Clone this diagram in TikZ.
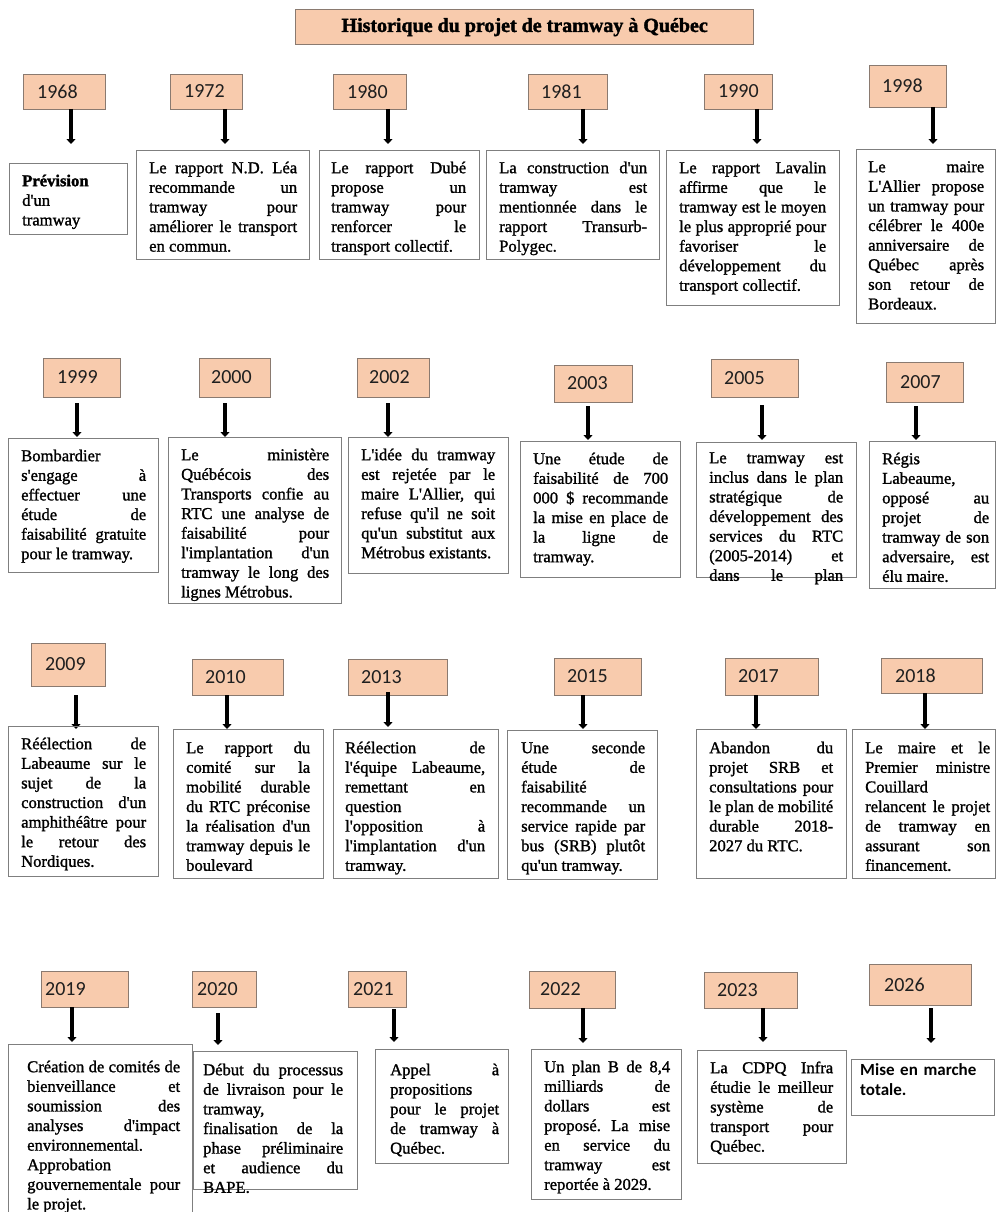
\documentclass[tikz,border=0pt]{standalone}
\usepackage{fontspec}
\setmainfont{Liberation Serif}[Ligatures=TeXOff, UprightFeatures={FakeBold=1.3}, BoldFeatures={FakeBold=1.8}]
\newfontfamily\yearfont{Carlito}
\usetikzlibrary{arrows.meta}
\definecolor{yearfill}{HTML}{F8CBAD}
\definecolor{yearline}{HTML}{8A7A70}
\definecolor{boxline}{HTML}{7F7F7F}
\newcommand{\JLn}[1]{\makebox[\jw][s]{#1}}
\newcommand{\LLn}[1]{\mbox{#1}}
\newcommand{\FS}{\rule{0pt}{16pt}}
\newcommand{\YR}[7]{%
  \node[yearbox, anchor=north west, minimum width={#4-#2}, minimum height={#5-#3}] (y#1) at (#2,#3) {};
  \node[yeartext] (yl#1) at ({#2+#6},{(#3+#5)/2}) {#7};}
\newcommand{\TB}[5]{%
  \node[textbox, anchor=north west, minimum width={#4-#2}, minimum height={#5-#3}] (b#1) at (#2,#3) {};}
\newcommand{\AR}[4]{%
  \coordinate (as#1) at (#2,#3); \coordinate (ae#1) at (#2,#4); \draw[arr] (as#1) -- (ae#1);}
\newcommand{\TX}[5]{%
  \node[body, text width=#4] (t#1) at (#2,#3) {\def\jw{#4pt}\spaceskip=0pt\xspaceskip=0pt\frenchspacing\FS#5};}
\begin{document}
\begin{tikzpicture}[x=1pt,y=-1pt,
  yearbox/.style={draw=yearline, fill=yearfill, line width=1.3pt, inner sep=0pt},
  textbox/.style={draw=boxline, line width=1.3pt, inner sep=0pt},
  yeartext/.style={font=\yearfont\fontsize{20}{24}\selectfont, text=black!88, inner sep=0pt, anchor=west},
  body/.style={font=\fontsize{16.6}{19.6}\selectfont, inner sep=0pt, anchor=north west, align=left},
  arr/.style={line width=3.5pt, -{Triangle[width=9pt,length=5pt]}},
]
\useasboundingbox[fill=white] (0,0) rectangle (996,1212);

% title
\node[yearbox, anchor=north west, minimum width=458, minimum height=35,
  font=\bfseries\fontsize{20}{24}\selectfont] (title) at (295,9) {Historique du projet de tramway à Québec};

% ---------------- row 1
\YR{1968}{23}{74}{105}{109}{14}{1968}
\AR{1968}{71}{109}{144}
\TB{1968}{9}{163}{127}{234}
\TX{1968}{22}{170}{100}{\textbf{Prévision}\\d'un\\tramway}

\YR{1972}{170}{74}{242}{109}{14}{1972}
\AR{1972}{225}{109}{144}
\TB{1972}{136}{150}{309}{259}
\TX{1972}{149}{157}{148}{\JLn{Le rapport N.D. Léa}\\\JLn{recommande un}\\\JLn{tramway pour}\\\JLn{améliorer le transport}\\\LLn{en commun.}}

\YR{1980}{333}{74}{406}{109}{14}{1980}
\AR{1980}{388}{109}{144}
\TB{1980}{319}{150}{479}{259}
\TX{1980}{331}{157}{135}{\JLn{Le rapport Dubé}\\\JLn{propose un}\\\JLn{tramway pour}\\\JLn{renforcer le}\\\LLn{transport collectif.}}

\YR{1981}{528}{74}{607}{109}{13}{1981}
\AR{1981}{583}{109}{144}
\TB{1981}{486}{150}{659}{259}
\TX{1981}{499}{157}{148}{\JLn{La construction d'un}\\\JLn{tramway est}\\\JLn{mentionnée dans le}\\\JLn{rapport Transurb-}\\\LLn{Polygec.}}

\YR{1990}{704}{74}{772}{109}{14}{1990}
\AR{1990}{757}{109}{144}
\TB{1990}{666}{150}{839}{305}
\TX{1990}{679}{157}{147}{\JLn{Le rapport Lavalin}\\\JLn{affirme que le}\\\JLn{tramway est le moyen}\\\JLn{le plus approprié pour}\\\JLn{favoriser le}\\\JLn{développement du}\\\LLn{transport collectif.}}

\YR{1998}{869}{65}{946}{107}{13}{1998}
\AR{1998}{933}{107}{144}
\TB{1998}{856}{149}{995}{323}
\TX{1998}{868}{156}{116}{\JLn{Le maire}\\\JLn{L'Allier propose}\\\JLn{un tramway pour}\\\JLn{célébrer le 400e}\\\JLn{anniversaire de}\\\JLn{Québec après}\\\JLn{son retour de}\\\LLn{Bordeaux.}}

% ---------------- row 2
\YR{1999}{43}{358}{120}{397}{14}{1999}
\AR{1999}{77}{403}{437}
\TB{1999}{8}{438}{158}{572}
\TX{1999}{21}{445}{125}{\LLn{Bombardier}\\\JLn{s'engage à}\\\JLn{effectuer une}\\\JLn{étude de}\\\JLn{faisabilité gratuite}\\\LLn{pour le tramway.}}

\YR{2000}{199}{358}{270}{397}{12}{2000}
\AR{2000}{225}{403}{437}
\TB{2000}{168}{437}{341}{603}
\TX{2000}{181}{444}{148}{\JLn{Le ministère}\\\JLn{Québécois des}\\\JLn{Transports confie au}\\\JLn{RTC une analyse de}\\\JLn{faisabilité pour}\\\JLn{l'implantation d'un}\\\JLn{tramway le long des}\\\LLn{lignes Métrobus.}}

\YR{2002}{357}{358}{429}{397}{12}{2002}
\AR{2002}{388}{403}{437}
\TB{2002}{348}{437}{508}{573}
\TX{2002}{361}{444}{134}{\JLn{L'idée du tramway}\\\JLn{est rejetée par le}\\\JLn{maire L'Allier, qui}\\\JLn{refuse qu'il ne soit}\\\JLn{qu'un substitut aux}\\\LLn{Métrobus existants.}}

\YR{2003}{554}{365}{632}{402}{13}{2003}
\AR{2003}{588}{406}{440}
\TB{2003}{520}{441}{680}{577}
\TX{2003}{533}{448}{135}{\JLn{Une étude de}\\\JLn{faisabilité de 700}\\\JLn{000 \$ recommande}\\\JLn{la mise en place de}\\\JLn{la ligne de}\\\LLn{tramway.}}

\YR{2005}{711}{359}{798}{397}{13}{2005}
\AR{2005}{762}{405}{440}
\TB{2005}{696}{442}{856}{577}
\TX{2005}{709}{447}{134}{\JLn{Le tramway est}\\\JLn{inclus dans le plan}\\\JLn{stratégique de}\\\JLn{développement des}\\\JLn{services du RTC}\\\JLn{(2005-2014) et}\\\JLn{dans le plan}}

\YR{2007}{886}{362}{963}{402}{14}{2007}
\AR{2007}{916}{406}{440}
\TB{2007}{869}{441}{995}{588}
\TX{2007}{882}{448}{107}{\LLn{Régis}\\\LLn{Labeaume,}\\\JLn{opposé au}\\\JLn{projet de}\\\JLn{tramway de son}\\\JLn{adversaire, est}\\\LLn{élu maire.}}

% ---------------- row 3
\YR{2009}{31}{643}{105}{686}{14}{2009}
\AR{2009}{76}{695}{729}
\TB{2009}{8}{726}{158}{876}
\TX{2009}{21}{733}{125}{\JLn{Réélection de}\\\JLn{Labeaume sur le}\\\JLn{sujet de la}\\\JLn{construction d'un}\\\JLn{amphithéâtre pour}\\\JLn{le retour des}\\\LLn{Nordiques.}}

\YR{2010}{192}{659}{283}{695}{13}{2010}
\AR{2010}{227}{695}{729}
\TB{2010}{173}{729}{323}{878}
\TX{2010}{186}{737}{124}{\JLn{Le rapport du}\\\JLn{comité sur la}\\\JLn{mobilité durable}\\\JLn{du RTC préconise}\\\JLn{la réalisation d'un}\\\JLn{tramway depuis le}\\\LLn{boulevard}}

\YR{2013}{348}{659}{447}{695}{13}{2013}
\AR{2013}{388}{692}{727}
\TB{2013}{333}{729}{498}{878}
\TX{2013}{345}{737}{140}{\JLn{Réélection de}\\\JLn{l'équipe Labeaume,}\\\JLn{remettant en}\\\LLn{question}\\\JLn{l'opposition à}\\\JLn{l'implantation d'un}\\\LLn{tramway.}}

\YR{2015}{554}{658}{641}{695}{13}{2015}
\AR{2015}{583}{695}{729}
\TB{2015}{507}{730}{657}{879}
\TX{2015}{521}{737}{124}{\JLn{Une seconde}\\\JLn{étude de}\\\LLn{faisabilité}\\\JLn{recommande un}\\\JLn{service rapide par}\\\JLn{bus (SRB) plutôt}\\\LLn{qu'un tramway.}}

\YR{2017}{725}{658}{818}{695}{13}{2017}
\AR{2017}{756}{695}{729}
\TB{2017}{696}{729}{846}{878}
\TX{2017}{709}{737}{124}{\JLn{Abandon du}\\\JLn{projet SRB et}\\\JLn{consultations pour}\\\JLn{le plan de mobilité}\\\JLn{durable 2018-}\\\LLn{2027 du RTC.}}

\YR{2018}{881}{658}{982}{693}{14}{2018}
\AR{2018}{925}{693}{729}
\TB{2018}{852}{729}{995}{878}
\TX{2018}{865}{737}{125}{\JLn{Le maire et le}\\\JLn{Premier ministre}\\\LLn{Couillard}\\\JLn{relancent le projet}\\\JLn{de tramway en}\\\JLn{assurant son}\\\LLn{financement.}}

% ---------------- row 4
\YR{2019}{41}{971}{128}{1007}{4}{2019}
\AR{2019}{72}{1007}{1042}
\TB{2019}{8}{1044}{192}{1216}
\TX{2019}{27}{1056}{153}{\JLn{Création de comités de}\\\JLn{bienveillance et}\\\JLn{soumission des}\\\JLn{analyses d'impact}\\\LLn{environnemental.}\\\LLn{Approbation}\\\JLn{gouvernementale pour}\\\LLn{le projet.}}

\YR{2020}{192}{971}{256}{1007}{5}{2020}
\AR{2020}{218}{1013}{1045}
\TB{2020}{193}{1051}{357}{1189}
\TX{2020}{203}{1059}{140}{\JLn{Début du processus}\\\JLn{de livraison pour le}\\\LLn{tramway,}\\\JLn{finalisation de la}\\\JLn{phase préliminaire}\\\JLn{et audience du}\\\LLn{BAPE.}}

\YR{2021}{348}{971}{406}{1007}{5}{2021}
\AR{2021}{394}{1009}{1042}
\TB{2021}{375}{1049}{508}{1163}
\TX{2021}{390}{1059}{109}{\JLn{Appel à}\\\LLn{propositions}\\\JLn{pour le projet}\\\JLn{de tramway à}\\\LLn{Québec.}}

\YR{2022}{529}{971}{615}{1008}{11}{2022}
\AR{2022}{583}{1008}{1043}
\TB{2022}{531}{1049}{681}{1199}
\TX{2022}{544}{1056}{126}{\JLn{Un plan B de 8,4}\\\JLn{milliards de}\\\JLn{dollars est}\\\JLn{proposé. La mise}\\\JLn{en service du}\\\JLn{tramway est}\\\LLn{reportée à 2029.}}

\YR{2023}{704}{972}{797}{1008}{13}{2023}
\AR{2023}{763}{1008}{1042}
\TB{2023}{697}{1050}{846}{1163}
\TX{2023}{710}{1057}{123}{\JLn{La CDPQ Infra}\\\JLn{étudie le meilleur}\\\JLn{système de}\\\JLn{transport pour}\\\LLn{Québec.}}

\YR{2026}{869}{964}{971}{1005}{15}{2026}
\AR{2026}{931}{1008}{1043}
\TB{2026}{851}{1059}{994}{1115}
\node[body, text width=125, font=\yearfont\bfseries\fontsize{17}{20}\selectfont] (t2026) at (860,1061) {\rule{0pt}{14pt}Mise en marche\\totale.};
\end{tikzpicture}
\end{document}
